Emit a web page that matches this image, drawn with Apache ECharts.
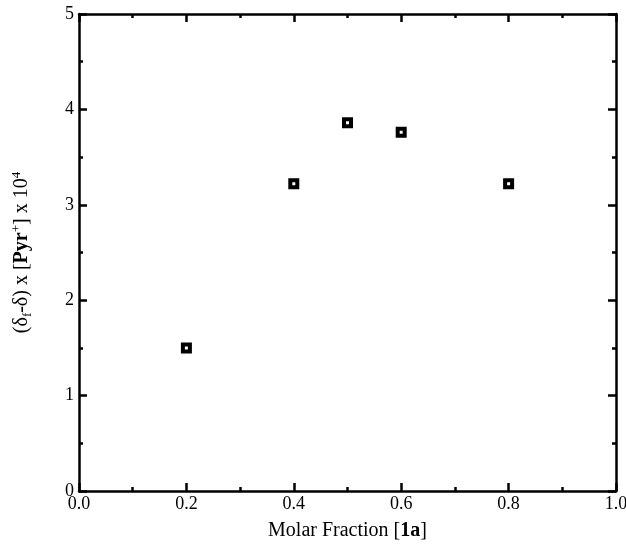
<!DOCTYPE html>
<html>
<head>
<meta charset="utf-8">
<script src="https://cdn.jsdelivr.net/npm/echarts@6/dist/echarts.min.js"></script>
<style>
  html, body { margin: 0; padding: 0; background: #fff; }
  #chart { width: 626px; height: 544px; }
</style>
</head>
<body>
<div id="chart"></div>
<script>
// molar fraction of 1a vs (δf-δ) x [Pyr+] x 10^4
var molarFraction = [0.2, 0.4, 0.5, 0.6, 0.8];
var jobValues = [1.5, 3.22, 3.86, 3.76, 3.22];
var xTicks = [0, 0.2, 0.4, 0.6, 0.8, 1.0];
var yTicks = [0, 1, 2, 3, 4, 5];

var FONT = '"Liberation Serif", "DejaVu Serif", serif';

var points = molarFraction.map(function (x, i) {
    return [x, jobValues[i]];
});

function makeAxis(opts) {
    var base = {
        min: opts.min,
        max: opts.max,
        interval: opts.interval,
        axisLine: { onZero: false, lineStyle: { color: '#000', width: 2.5 } },
        axisTick: { inside: true, length: 8, lineStyle: { color: '#000', width: 2.5 } },
        minorTick: { show: true, splitNumber: 2, length: 4, lineStyle: { color: '#000', width: 2.5 } },
        splitLine: { show: false },
        axisLabel: { show: false }
    };
    for (var k in opts.extra) base[k] = opts.extra[k];
    return base;
}

var chart = echarts.init(document.getElementById('chart'));

var option = {
    animation: false,
    backgroundColor: '#fff',
    grid: { left: 79, right: 10, top: 14, bottom: 53, containLabel: false, outerBoundsMode: 'none' },
    xAxis: [
        makeAxis({ min: 0, max: 1, interval: 0.2, extra: {
            type: 'value',
            position: 'bottom',
            axisLabel: {
                show: true, margin: 4, color: '#000', fontSize: 18, fontFamily: FONT,
                formatter: function (v) { return v.toFixed(1); }
            },
            name: 'Molar Fraction [{b|1a}]',
            nameLocation: 'middle',
            nameGap: 30,
            nameTextStyle: {
                color: '#000', fontSize: 20, fontFamily: FONT,
                rich: { b: { fontWeight: 'bold', fontSize: 20, fontFamily: FONT, color: '#000' } }
            }
        }}),
        makeAxis({ min: 0, max: 1, interval: 0.2, extra: { type: 'value', position: 'top' } })
    ],
    yAxis: [
        makeAxis({ min: 0, max: 5, interval: 1, extra: {
            type: 'value',
            position: 'left',
            axisLabel: { show: true, margin: 5, color: '#000', fontSize: 18, fontFamily: FONT },
            name: '(δ{sub|f}-δ) x [{b|Pyr}{sup|+}] x 10{sup|4}',
            nameLocation: 'middle',
            nameRotate: 90,
            nameGap: 45,
            nameTextStyle: {
                color: '#000', fontSize: 20, fontFamily: FONT, lineHeight: 24,
                rich: {
                    b: { fontWeight: 'bold', fontSize: 20, fontFamily: FONT, color: '#000', lineHeight: 24 },
                    sub: { fontSize: 13, fontFamily: FONT, color: '#000', verticalAlign: 'bottom', lineHeight: 24 },
                    sup: { fontSize: 13, fontFamily: FONT, color: '#000', verticalAlign: 'top', lineHeight: 24 }
                }
            }
        }}),
        makeAxis({ min: 0, max: 5, interval: 1, extra: { type: 'value', position: 'right' } })
    ],
    series: [{
        type: 'scatter',
        xAxisIndex: 0,
        yAxisIndex: 0,
        data: points,
        symbol: 'rect',
        symbolSize: 7,
        itemStyle: { color: '#fff', borderColor: '#000', borderWidth: 4, opacity: 1 }
    }]
};

chart.setOption(option);
</script>
</body>
</html>
